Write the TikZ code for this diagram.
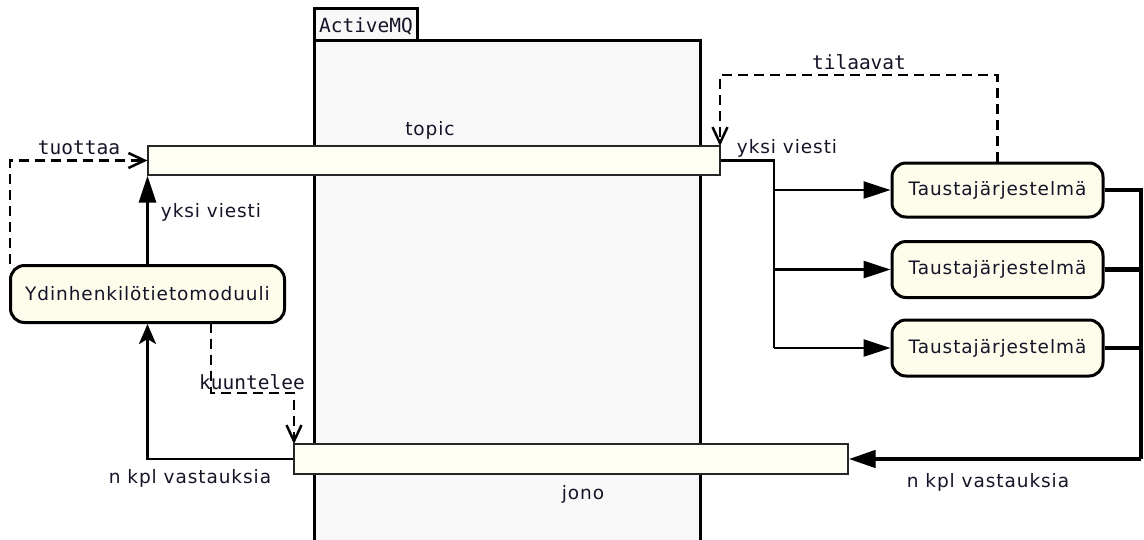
\documentclass[tikz,border=0pt]{standalone}
\usepackage{fontspec}
\setmainfont[LetterSpace=5]{DejaVu Sans}
\newfontfamily\monof{DejaVu Sans Mono}
\usetikzlibrary{arrows.meta}
\definecolor{cream}{RGB}{254,253,236}
\definecolor{barfill}{RGB}{254,254,242}
\definecolor{pkgfill}{RGB}{248,248,248}
\definecolor{txt}{RGB}{20,20,40}
\tikzset{
  lbl/.style={font=\fontsize{18.5}{20}\selectfont, text=txt, inner sep=0pt},
  mlbl/.style={font=\monof\fontsize{19.5}{20}\selectfont, text=txt, inner sep=0pt},
  bar/.style={draw=black!85, line width=1.2pt, fill=barfill, inner sep=0pt},
  sysbox/.style={draw=black, line width=3pt, fill=cream, rounded corners=14pt, inner sep=0pt, font=\fontsize{18.5}{20}\selectfont, text=txt},
  conn/.style={draw=black, line width=2.8pt},
  thickconn/.style={draw=black, line width=4.5pt},
  dashconn/.style={draw=black, line width=2.8pt, dash pattern=on 10pt off 6pt},
  fillarrow/.style={-{Triangle[length=27pt,width=17pt]}},
  openarrow/.style={-{Straight Barb[length=16pt,width=15pt,line width=2.5pt]}},
}
\begin{document}
\begin{tikzpicture}[x=1pt,y=-1pt]
\useasboundingbox (0,0) rectangle (1144,539);
% ActiveMQ package
\draw[line width=3pt, fill=pkgfill] (314,8) rectangle (417,40);
\draw[line width=3pt, fill=pkgfill] (314,545) -- (314,40) -- (700,40) -- (700,545);
\node[mlbl] (amq) at (366,26) {ActiveMQ};
% bars
\node[bar, minimum width=572pt, minimum height=29pt] (topic) at (434,160.5) {};
\node[bar, minimum width=554pt, minimum height=30pt] (jono) at (571,459) {};
\node[lbl] (topiclbl) at (430,130) {topic};
\node[lbl] (jonolbl) at (583,494) {jono};
% systems
\node[sysbox, minimum width=274pt, minimum height=57pt] (ydin) at (147.5,294) {Ydinhenkilötietomoduuli};
\node[sysbox, minimum width=211pt, minimum height=54pt] (t1) at (997.5,190) {Taustajärjestelmä};
\node[sysbox, minimum width=211pt, minimum height=56pt] (t2) at (997.5,269.5) {Taustajärjestelmä};
\node[sysbox, minimum width=211pt, minimum height=56pt] (t3) at (997.5,348) {Taustajärjestelmä};
% coordinates
\coordinate (bx) at (774,0);
\coordinate (rx) at (1141,0);
\coordinate (dl) at (10,0);
\coordinate (tily) at (0,75);
% yksi viesti up
\draw[conn, fillarrow] (ydin.north) -- (ydin.north|-topic.south);
\node[lbl] (yv1) at (211,212) {yksi viesti};
% tuottaa
\draw[dashconn, openarrow] (dl|-ydin.north) -- (dl|-topic.west) -- (topic.west);
\node[mlbl] (tuo) at (79,148) {tuottaa};
% kuuntelee
\draw[dashconn, openarrow] (211,322.5) -- (211,393) -- (294,393) -- (294,444);
\node[mlbl] (kuu) at (252,382) {kuuntelee};
% n kpl vastauksia left
\draw[conn, -{Stealth[length=20pt,width=17pt,inset=5pt]}] (jono.west) -- (ydin.south|-jono.west) -- (ydin.south);
\node[lbl] (nkpl1) at (190,478) {n kpl vastauksia};
% topic to systems
\draw[conn] (topic.east) -- (bx|-topic.east) -- (bx|-t3.west);
\draw[conn, fillarrow] (bx|-t1.west) -- (t1.west);
\draw[conn, fillarrow] (bx|-t2.west) -- (t2.west);
\draw[conn, fillarrow] (bx|-t3.west) -- (t3.west);
\node[lbl] (yv2) at (787,148) {yksi viesti};
% tilaavat
\draw[dashconn, openarrow] (t1.north) -- (t1.north|-tily) -- (720,75) -- (720,146);
\node[mlbl] (til) at (859,62) {tilaavat};
% responses right
\draw[thickconn] (t1.east) -- (rx|-t1.east) -- (rx|-jono.east);
\draw[thickconn] (t2.east) -- (rx|-t2.east);
\draw[thickconn] (t3.east) -- (rx|-t3.east);
\draw[thickconn, -{Triangle[length=27pt,width=17pt]}] (rx|-jono.east) -- (jono.east);
\node[lbl] (nkpl2) at (988,482) {n kpl vastauksia};
\end{tikzpicture}
\end{document}
